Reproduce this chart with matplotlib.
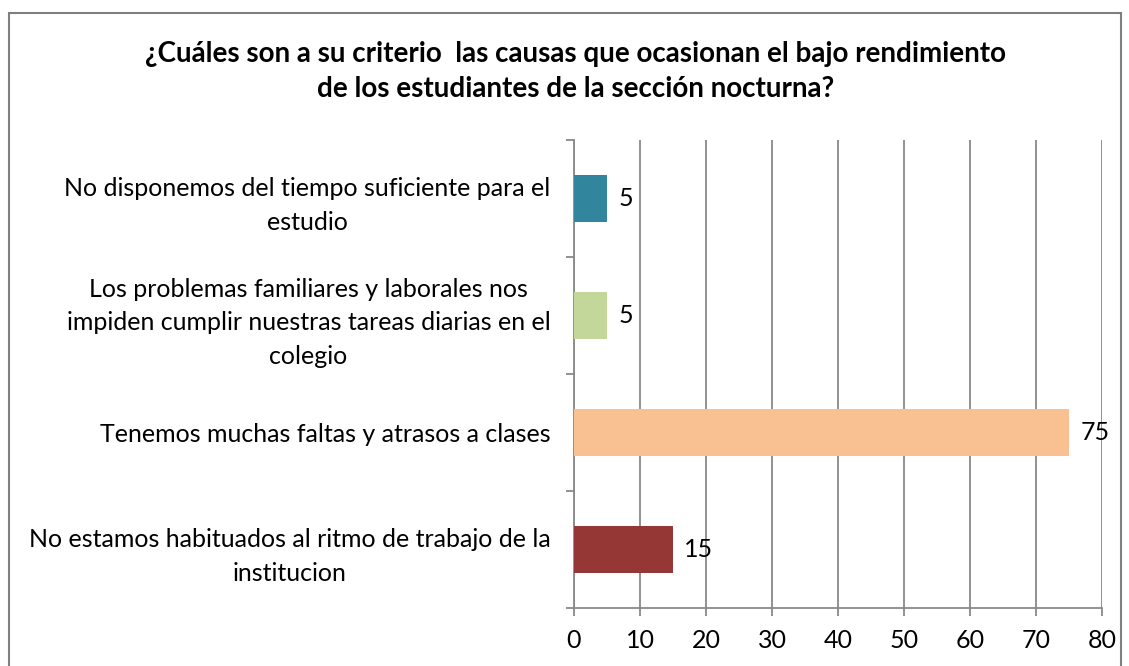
import matplotlib.pyplot as plt
from matplotlib.patches import Rectangle

categorias = [
    'No estamos habituados al ritmo de trabajo de la\ninstitucion',
    'Tenemos muchas faltas y atrasos a clases',
    'Los problemas familiares y laborales nos\nimpiden cumplir nuestras tareas diarias en el\ncolegio',
    'No disponemos del tiempo suficiente para el\nestudio',
]
valores = [15, 75, 5, 5]
colores = ['#953735', '#F9C191', '#C4D79B', '#31859C']
ticks_x = [0, 10, 20, 30, 40, 50, 60, 70, 80]

plt.rcParams['font.family'] = ['Lato', 'DejaVu Sans']
gris = '#898989'

fig = plt.figure(figsize=(11.29, 6.66), dpi=100)
ax = fig.add_axes([0.5084, 0.0871, 0.4677, 0.7027])

pos = list(range(len(categorias)))
barras = ax.barh(pos, valores, height=0.4, color=colores, zorder=3)
ax.bar_label(barras, labels=[str(v) for v in valores], padding=8, fontsize=18, zorder=4)

ax.set_xlim(0, 80)
ax.set_ylim(-0.5, len(categorias) - 0.5)
ax.set_xticks(ticks_x)
ax.set_xticklabels([str(t) for t in ticks_x], fontsize=18)
ax.set_yticks(pos)
ax.set_yticklabels(categorias, fontsize=18)
for lbl in ax.get_yticklabels():
    lbl.set_multialignment('center')
    lbl.set_linespacing(1.55)
ax.set_yticks([p - 0.5 for p in pos] + [len(categorias) - 0.5], minor=True)
ax.tick_params(axis='y', which='major', length=0, pad=17)
ax.tick_params(axis='y', which='minor', length=6, width=1.3, color=gris)
ax.tick_params(axis='x', length=6, width=1.3, color=gris, pad=9)

ax.grid(axis='x', color=gris, linewidth=1.3, zorder=0)
for lado in ['top', 'right']:
    ax.spines[lado].set_visible(False)
for lado in ['left', 'bottom']:
    ax.spines[lado].set_color(gris)
    ax.spines[lado].set_linewidth(1.3)

fig.text(0.51, 0.893, '¿Cuáles son a su criterio  las causas que ocasionan el bajo rendimiento\nde los estudiantes de la sección nocturna?',
         ha='center', va='center', fontsize=20, fontweight='bold', linespacing=1.45)

fig.patches.append(Rectangle((9 / 1129, -0.05), 1112 / 1129, 1.05 - 13 / 666,
                             transform=fig.transFigure, fill=False,
                             edgecolor='#7f7f7f', linewidth=1.5))

fig.savefig('out.png', dpi=100)
